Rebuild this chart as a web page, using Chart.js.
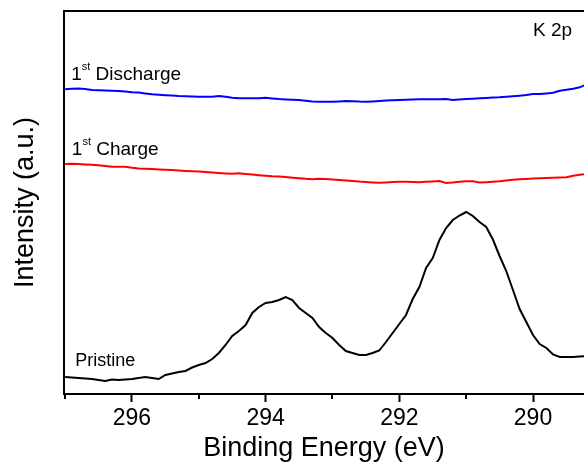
<!DOCTYPE html>
<html>
<head>
<meta charset="utf-8">
<title>K 2p XPS</title>
<script src="https://cdn.jsdelivr.net/npm/chart.js@4.4.1/dist/chart.umd.min.js"></script>
<style>
  html, body { margin: 0; padding: 0; background: #fff; }
  #wrap { width: 584px; height: 465px; position: relative; }
</style>
</head>
<body>
<div id="wrap"><canvas id="c" width="584" height="465"></canvas></div>
<script>
// Binding energy grid (eV), 0.1 eV steps
const energy = [
  297.0, 296.9, 296.8, 296.7, 296.6, 296.5, 296.4, 296.3, 296.2, 296.1,
  296.0, 295.9, 295.8, 295.7, 295.6, 295.5, 295.4, 295.3, 295.2, 295.1,
  295.0, 294.9, 294.8, 294.7, 294.6, 294.5, 294.4, 294.3, 294.2, 294.1,
  294.0, 293.9, 293.8, 293.7, 293.6, 293.5, 293.4, 293.3, 293.2, 293.1,
  293.0, 292.9, 292.8, 292.7, 292.6, 292.5, 292.4, 292.3, 292.2, 292.1,
  292.0, 291.9, 291.8, 291.7, 291.6, 291.5, 291.4, 291.3, 291.2, 291.1,
  291.0, 290.9, 290.8, 290.7, 290.6, 290.5, 290.4, 290.3, 290.2, 290.1,
  290.0, 289.9, 289.8, 289.7, 289.6, 289.5, 289.4, 289.3, 289.2
];

// Intensities (a.u., stacked offsets included)
const discharge = [
  304.7, 305.3, 305.6, 305.0, 304.0, 303.7, 303.5, 303.2, 303.0, 302.5,
  301.8, 301.4, 300.6, 299.8, 299.3, 298.8, 298.4, 298.0, 297.8, 297.5,
  297.3, 297.3, 297.3, 298.0, 297.2, 296.2, 295.8, 295.7, 295.7, 295.7,
  296.3, 295.6, 295.0, 294.6, 294.3, 294.0, 293.3, 292.4, 292.3, 292.3,
  292.3, 292.6, 293.0, 292.7, 292.4, 292.3, 292.6, 293.0, 293.4, 293.8,
  294.0, 294.2, 294.5, 294.7, 294.7, 294.7, 294.7, 295.0, 294.0, 294.5,
  295.0, 295.3, 295.7, 296.0, 296.4, 296.7, 297.2, 297.7, 298.3, 299.0,
  300.0, 300.0, 300.6, 301.3, 303.2, 304.2, 305.3, 306.7, 309.5
];

const charge = [
  230.0, 230.2, 230.0, 229.6, 229.2, 228.8, 228.0, 227.3, 227.2, 227.3,
  226.3, 225.6, 225.2, 224.9, 224.6, 224.2, 223.9, 223.5, 223.1, 222.8,
  222.4, 221.9, 221.5, 221.0, 220.6, 220.3, 220.7, 220.0, 219.4, 218.8,
  218.2, 217.7, 217.4, 216.9, 216.3, 215.8, 215.2, 214.8, 215.3, 214.9,
  214.5, 214.1, 213.5, 213.0, 212.4, 212.0, 211.6, 211.3, 211.6, 212.0,
  212.2, 212.3, 212.1, 211.8, 212.3, 212.6, 213.0, 211.0, 211.5, 212.3,
  212.7, 212.8, 211.4, 211.8, 212.3, 212.7, 213.5, 214.3, 214.7, 215.1,
  215.5, 215.7, 216.0, 216.3, 216.5, 216.8, 218.3, 219.2, 220.0
];

const pristine = [
  17, 16.5, 16, 15.5, 15, 14, 13, 14.5, 14, 14.5,
  15, 16, 17, 16, 15, 19, 20.5, 22, 23, 26.5,
  29, 31, 35, 41, 49, 58, 63, 69, 81, 87,
  91, 92, 94, 97, 94, 86, 81, 76, 67, 61,
  56, 49, 43, 41, 39, 39, 41, 43.5, 52, 61,
  70, 79, 95, 107, 126, 136, 154, 166, 174, 178.5,
  182, 178, 172, 167, 154.5, 138, 123, 104, 85, 72,
  59, 50, 46, 39.5, 37, 37, 37, 37.5, 38
];

// Axis ticks
const majorTicks = [296, 294, 292, 290];
const minorTicks = [297, 295, 293, 291];
const xRange = { min: 289.237, max: 297.017 };
const yRange = { min: 0, max: 383 };

// Curve captions: [first part, superscript, rest, energy, intensity, size]
const captions = [
  ['1', 'st', ' Discharge', 296.91, 314, 19],
  ['1', 'st', ' Charge', 296.90, 239, 19],
  ['Pristine', '', '', 296.85, 28, 18],
  ['K 2p', '', '', 290.0, 358, 19]
];

const FONT = '"Liberation Sans", Arial, Helvetica, sans-serif';

function toPoints(vals) {
  return energy.map((e, i) => ({ x: e, y: vals[i] }));
}

// Top frame line and minor tick marks
const framePlugin = {
  id: 'frame',
  afterDraw(chart) {
    const { ctx, chartArea } = chart;
    const xs = chart.scales.x;
    ctx.save();
    ctx.strokeStyle = '#000';
    ctx.lineWidth = 2;
    ctx.beginPath();
    ctx.moveTo(chartArea.left - 1, chartArea.top);
    ctx.lineTo(chartArea.right, chartArea.top);
    ctx.stroke();
    ctx.beginPath();
    minorTicks.forEach(v => {
      const px = Math.round(xs.getPixelForValue(v));
      ctx.moveTo(px, chartArea.bottom);
      ctx.lineTo(px, chartArea.bottom + 5);
    });
    ctx.stroke();
    ctx.restore();
  }
};

// Text captions next to the curves
const captionPlugin = {
  id: 'captions',
  afterDatasetsDraw(chart) {
    const { ctx } = chart;
    const xs = chart.scales.x, ys = chart.scales.y;
    ctx.save();
    ctx.fillStyle = '#000';
    ctx.textBaseline = 'alphabetic';
    ctx.textAlign = 'left';
    captions.forEach(([a, sup, rest, e, v, size]) => {
      let x = xs.getPixelForValue(e);
      const y = ys.getPixelForValue(v);
      ctx.font = size + 'px ' + FONT;
      ctx.fillText(a, x, y);
      x += ctx.measureText(a).width;
      if (sup) {
        ctx.font = Math.round(size * 0.58) + 'px ' + FONT;
        ctx.fillText(sup, x, y - size * 0.52);
        x += ctx.measureText(sup).width;
      }
      if (rest) {
        ctx.font = size + 'px ' + FONT;
        ctx.fillText(rest, x, y);
      }
    });
    ctx.restore();
  }
};

new Chart(document.getElementById('c'), {
  type: 'line',
  data: {
    datasets: [
      { label: '1st Discharge', data: toPoints(discharge), borderColor: '#0000ff' },
      { label: '1st Charge', data: toPoints(charge), borderColor: '#ff0000' },
      { label: 'Pristine', data: toPoints(pristine), borderColor: '#000000' }
    ]
  },
  options: {
    responsive: false,
    animation: false,
    devicePixelRatio: 1,
    layout: { padding: { top: 11, right: 0, bottom: 0, left: 0 } },
    elements: {
      line: { borderWidth: 2, tension: 0, fill: false },
      point: { radius: 0, hoverRadius: 0 }
    },
    plugins: {
      legend: { display: false },
      tooltip: { enabled: false }
    },
    scales: {
      x: {
        type: 'linear',
        reverse: true,
        min: xRange.min,
        max: xRange.max,
        afterBuildTicks(scale) {
          scale.ticks = majorTicks.map(v => ({ value: v }));
        },
        afterFit(scale) { scale.height = 71; },
        grid: {
          display: true,
          drawOnChartArea: false,
          drawTicks: true,
          tickLength: 8,
          tickWidth: 2,
          tickColor: '#000'
        },
        border: { display: true, color: '#000', width: 2 },
        ticks: {
          color: '#000',
          padding: 3,
          maxRotation: 0,
          autoSkip: false,
          font: { family: FONT, size: 23 },
          callback: v => String(v)
        },
        title: {
          display: true,
          text: 'Binding Energy (eV)',
          color: '#000',
          font: { family: FONT, size: 27 },
          padding: { top: 0, bottom: 0 }
        }
      },
      y: {
        min: yRange.min,
        max: yRange.max,
        afterFit(scale) { scale.width = 64; },
        grid: { display: false, drawTicks: false },
        border: { display: true, color: '#000', width: 2 },
        ticks: { display: false },
        title: {
          display: true,
          text: 'Intensity (a.u.)',
          color: '#000',
          font: { family: FONT, size: 27 },
          padding: { top: 9, bottom: 0 }
        }
      }
    }
  },
  plugins: [framePlugin, captionPlugin]
});
</script>
</body>
</html>
